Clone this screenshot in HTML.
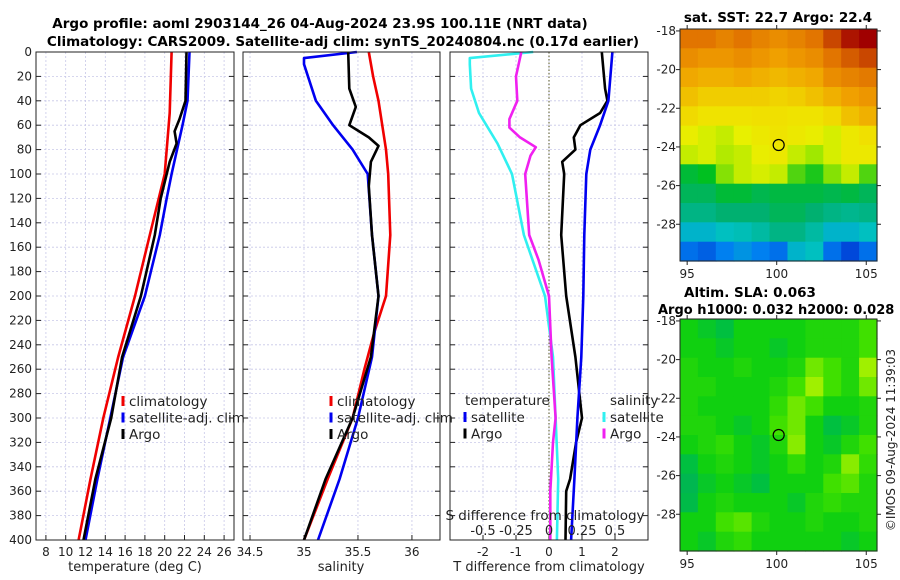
<!DOCTYPE html>
<html><head><meta charset="utf-8">
<style>
html,body{margin:0;padding:0;background:#fff;}
svg{display:block;font-family:"DejaVu Sans","Liberation Sans",sans-serif;}
</style></head>
<body>
<svg id="fig" width="900" height="580" viewBox="0 0 900 580" xmlns="http://www.w3.org/2000/svg">
<rect width="900" height="580" fill="#fff"/>
<text x="320" y="28" font-size="13.5" font-weight="bold" text-anchor="middle">Argo profile: aoml 2903144_26 04-Aug-2024 23.9S 100.11E (NRT data)</text>
<text x="343" y="46" font-size="13.5" font-weight="bold" text-anchor="middle">Climatology: CARS2009. Satellite-adj clim: synTS_20240804.nc (0.17d earlier)</text>
<text x="778" y="22" font-size="13.5" font-weight="bold" text-anchor="middle">sat. SST: 22.7 Argo: 22.4</text>
<text x="684" y="297" font-size="13.5" font-weight="bold">Altim. SLA: 0.063</text>
<text x="658" y="314" font-size="13" font-weight="bold">Argo h1000: 0.032 h2000: 0.028</text>
<text transform="translate(895,440) rotate(-90)" font-size="12" text-anchor="middle" fill="#222">©IMOS 09-Aug-2024 11:39:03</text>
<g id="plots"></g>
</svg>
<script>
// ---- data ----
const depthTicks = [0,20,40,60,80,100,120,140,160,180,200,220,240,260,280,300,320,340,360,380,400];
const tTicks = [8,10,12,14,16,18,20,22,24,26];
const sTicks = [34.5,35,35.5,36];
const sTickLabels = ["34.5","35","35.5","36"];
const dTTicks = [-2,-1,0,1,2];
const dSTicks = [-0.5,-0.25,0,0.25,0.5];
const dSTickLabels = ["-0.5","-0.25","0","0.25","0.5"];

const tClimDepth = [0,50,100,150,200,250,300,350,400];
const tClim = [20.7,20.5,20.0,18.5,17.0,15.3,13.8,12.5,11.3];
const tSatDepth = [0,40,60,100,120,150,200,250,300,350,400];
const tSat = [22.5,22.3,21.8,20.7,20.2,19.5,18.0,15.8,14.5,13.2,12.0];
const tArgoDepth = [0,40,55,65,75,90,120,150,200,250,300,350,400];
const tArgo = [22.2,22.1,21.5,21.0,21.2,20.5,19.6,19.0,17.6,15.7,14.6,13.0,11.8];

const sClimDepth = [0,20,40,80,100,150,200,230,260,300,350,400];
const sClim = [35.6,35.64,35.69,35.76,35.78,35.80,35.76,35.65,35.56,35.45,35.22,35.0];
const sSatDepth = [0,5,10,40,60,80,100,150,200,250,300,350,400];
const sSat = [35.49,35.0,35.0,35.11,35.27,35.45,35.59,35.63,35.69,35.63,35.5,35.33,35.13];
const sArgoDepth = [0,30,45,60,70,77,90,110,150,200,250,300,350,400];
const sArgo = [35.41,35.42,35.48,35.42,35.60,35.69,35.62,35.60,35.63,35.69,35.62,35.45,35.2,35.0];

const dSSatDepth = [0,5,10,30,50,75,100,150,200,250,300,350,400];
const dSSat = [-0.12,-0.6,-0.6,-0.59,-0.53,-0.39,-0.28,-0.19,-0.03,0.03,0.05,0.07,0.06];
const dSArgoDepth = [0,20,40,55,62,70,78,85,100,150,170,200,250,300,320,360,400];
const dSArgo = [-0.21,-0.25,-0.24,-0.3,-0.3,-0.22,-0.1,-0.14,-0.18,-0.15,-0.08,0,0.02,0.05,0.03,0.01,0.01];
const dTArgoDepth = [0,30,40,50,60,70,80,90,100,150,200,250,300,320,350,360,400];
const dTArgo = [1.6,1.7,1.77,1.55,0.95,0.75,0.8,0.4,0.46,0.37,0.52,0.8,1.0,0.82,0.64,0.52,0.5];
const dTSatDepth = [0,40,60,80,100,150,200,250,300,350,400];
const dTSat = [1.92,1.8,1.55,1.25,1.13,1.07,1.04,0.98,0.86,0.77,0.67];

const sstGrid = [
[0.85,0.85,0.82,0.85,0.82,0.8,0.82,0.85,0.9,0.95,0.97],
[0.8,0.78,0.78,0.8,0.78,0.76,0.78,0.8,0.85,0.88,0.9],
[0.74,0.72,0.72,0.74,0.72,0.7,0.72,0.74,0.8,0.82,0.84],
[0.68,0.66,0.66,0.66,0.66,0.65,0.66,0.68,0.72,0.76,0.78],
[0.64,0.62,0.62,0.62,0.63,0.63,0.62,0.62,0.64,0.68,0.72],
[0.58,0.56,0.55,0.57,0.6,0.62,0.6,0.58,0.56,0.6,0.63],
[0.55,0.56,0.54,0.55,0.58,0.6,0.55,0.53,0.56,0.6,0.6],
[0.45,0.47,0.52,0.55,0.56,0.55,0.5,0.48,0.52,0.55,0.5],
[0.42,0.42,0.45,0.45,0.43,0.44,0.44,0.44,0.43,0.44,0.42],
[0.38,0.38,0.4,0.4,0.4,0.42,0.42,0.4,0.38,0.37,0.38],
[0.3,0.3,0.32,0.33,0.35,0.38,0.38,0.35,0.3,0.3,0.32],
[0.2,0.18,0.22,0.25,0.22,0.2,0.3,0.32,0.2,0.15,0.2]];
const slaGrid = [
[.45,.4,.35,.45,.45,.45,.45,.5,.5,.5,.6],
[.45,.45,.4,.45,.45,.4,.45,.5,.5,.5,.6],
[.5,.45,.45,.5,.45,.45,.5,.7,.6,.5,.8],
[.5,.5,.45,.45,.45,.5,.6,.8,.6,.5,.7],
[.5,.45,.45,.45,.45,.55,.7,.6,.45,.45,.5],
[.5,.5,.45,.4,.45,.6,.7,.45,.35,.4,.5],
[.45,.5,.55,.45,.4,.5,.75,.45,.4,.5,.6],
[.35,.45,.5,.45,.4,.45,.55,.45,.5,.75,.55],
[.25,.4,.45,.4,.35,.45,.45,.45,.6,.65,.5],
[.3,.45,.5,.45,.45,.45,.4,.5,.55,.5,.5],
[.45,.45,.6,.65,.5,.45,.45,.5,.45,.45,.5],
[.45,.4,.5,.55,.45,.45,.45,.45,.45,.4,.45]];
const latTicks = [-18,-20,-22,-24,-26,-28];
const lonTicks = [95,100,105];
const argoLon = 100.11, argoLat = -23.9;

// ---- helpers ----
const NS = "http://www.w3.org/2000/svg";
const root = document.getElementById('plots');
function mk(tag, attrs, parent){
  const e = document.createElementNS(NS, tag);
  for (const k in attrs) e.setAttribute(k, attrs[k]);
  (parent||root).appendChild(e);
  return e;
}
function txt(x,y,s,size,anchor,parent,fill){
  const t = mk('text',{x:x,y:y,'font-size':size,'text-anchor':anchor||'middle',fill:fill||'#222'},parent);
  t.textContent = s; return t;
}
const Y0=52, Y1=540;
const yD = d => Y0 + d/400*(Y1-Y0);
function lin(d0,d1,p0,p1){ return v => p0 + (v-d0)/(d1-d0)*(p1-p0); }

function panel(name, x0, x1, xf, ticks, labels, ylabels){
  const g = mk('g',{});
  
  
  ticks.forEach(v=>{ const x=xf(v); mk('line',{x1:x,x2:x,y1:Y0,y2:Y1,stroke:'#c8c8e8','stroke-width':0.8,'stroke-dasharray':'2,2'},g); });
  depthTicks.forEach(d=>{ const y=yD(d); mk('line',{x1:x0,x2:x1,y1:y,y2:y,stroke:'#c8c8e8','stroke-width':0.8,'stroke-dasharray':'2,2'},g);
    mk('line',{x1:x0,x2:x0+5,y1:y,y2:y,stroke:'#222'},g); mk('line',{x1:x1-5,x2:x1,y1:y,y2:y,stroke:'#222'},g);
    if (ylabels){ const t=txt(x0-4,y+4,String(d),12,'end',g);   }
  });
  if (labels) ticks.forEach((v,i)=>{ const x=xf(v); mk('line',{x1:x,x2:x,y1:Y1,y2:Y1-5,stroke:'#222'},g);
    const t=txt(x,Y1+16,labels[i],12,'middle',g);   });
  return g;
}
function series(g, name, xf, vals, depths, color){
  const pts = vals.map((v,i)=> xf(v).toFixed(1)+','+yD(depths[i]).toFixed(1)).join(' ');
  const p = mk('polyline',{points:pts,fill:'none',stroke:color,'stroke-width':2.6,'stroke-linejoin':'round'},g);
  
  
}
function frame(g,x0,x1){ mk('rect',{x:x0,y:Y0,width:x1-x0,height:Y1-Y0,fill:'none',stroke:'#222','stroke-width':1},g); }
function legend(g,x,y,items,name){
  const lg = mk('g',{},g);
  
  
  items.forEach((it,i)=>{ const yy=y+i*16.5;
    if (it[1]) mk('line',{x1:x,x2:x,y1:yy-10,y2:yy,stroke:it[1],'stroke-width':3},lg);
    txt(x+(it[1]?6:0),yy,it[0],13.5,'start',lg);
  });
}

// Panel 1 temperature
const xT = lin(7,27,36,234);
const p1 = panel('temperature-panel',36,234,xT,tTicks,tTicks.map(String),true);
series(p1,'temperature-climatology-line',xT,tClim,tClimDepth,'#f00000');
series(p1,'temperature-satellite-line',xT,tSat,tSatDepth,'#0000f0');
series(p1,'temperature-argo-line',xT,tArgo,tArgoDepth,'#000');
frame(p1,36,234);
legend(p1,123,406,[['climatology','#f00000'],['satellite-adj. clim','#0000f0'],['Argo','#000']],'temperature-legend');
txt(135,571,'temperature (deg C)',13,'middle',p1);

// Panel 2 salinity
const xS = lin(34.435,36.26,243,440);
const p2 = panel('salinity-panel',243,440,xS,sTicks,sTickLabels,false);
series(p2,'salinity-climatology-line',xS,sClim,sClimDepth,'#f00000');
series(p2,'salinity-satellite-line',xS,sSat,sSatDepth,'#0000f0');
series(p2,'salinity-argo-line',xS,sArgo,sArgoDepth,'#000');
frame(p2,243,440);
legend(p2,331,406,[['climatology','#f00000'],['satellite-adj. clim','#0000f0'],['Argo','#000']],'salinity-legend');
txt(341,571,'salinity',13,'middle',p2);

// Panel 3 differences
const xdT = lin(-3,3,450,648);
const xdS = lin(-0.75,0.75,450,648);
const p3 = panel('difference-panel',450,648,xdT,dTTicks,dTTicks.map(String),false);
mk('line',{x1:xdT(0),x2:xdT(0),y1:Y0,y2:Y1,stroke:'#555522','stroke-width':1,'stroke-dasharray':'1.5,2'},p3);
series(p3,'salinity-satellite-diff-line',xdS,dSSat,dSSatDepth,'#30f0f0');
series(p3,'salinity-argo-diff-line',xdS,dSArgo,dSArgoDepth,'#f020f0');
series(p3,'temperature-argo-diff-line',xdT,dTArgo,dTArgoDepth,'#000');
series(p3,'temperature-satellite-diff-line',xdT,dTSat,dTSatDepth,'#0000f0');
frame(p3,450,648);
legend(p3,465,405,[['temperature',null]],'diff-legend-temperature-header');
legend(p3,465,422,[['satellite','#0000f0'],['Argo','#000']],'diff-legend-temperature');
legend(p3,610,405,[['salinity',null]],'diff-legend-salinity-header');
legend(p3,604,422,[['satellite','#30f0f0'],['Argo','#f020f0']],'diff-legend-salinity');
txt(545,520,'S difference from climatology',13.5,'middle',p3);
dSTicks.forEach((v,i)=>{ const t=txt(xdS(v),535,dSTickLabels[i],13,'middle',p3);   });
txt(549,571,'T difference from climatology',13,'middle',p3);

// Maps
const sstStops = [[0,'#00009a'],[0.12,'#0030d0'],[0.22,'#0080f0'],[0.32,'#00c0c0'],[0.4,'#00b070'],[0.47,'#00c020'],[0.53,'#a0e800'],[0.57,'#e8f000'],[0.63,'#f0e000'],[0.68,'#f0c000'],[0.76,'#f0a000'],[0.86,'#e07000'],[0.97,'#a00000'],[1,'#a00000']];
const slaStops = [[0,'#00a078'],[0.35,'#00c040'],[0.45,'#10d010'],[0.6,'#40e000'],[0.8,'#a0f000'],[1,'#c0f000']];
function hex(c){return [parseInt(c.substr(1,2),16),parseInt(c.substr(3,2),16),parseInt(c.substr(5,2),16)];}
function cmap(stops,v){
  v=Math.max(0,Math.min(1,v));
  for(let i=1;i<stops.length;i++){ if(v<=stops[i][0]){ const a=stops[i-1],b=stops[i],f=(v-a[0])/((b[0]-a[0])||1);
    const ca=hex(a[1]),cb=hex(b[1]); return 'rgb('+ca.map((c,k)=>Math.round(c+(cb[k]-c)*f)).join(',')+')'; } }
  return stops[stops.length-1][1];
}
function map(name, grid, stops, X0, X1, MY0, MY1){
  const g = mk('g',{});
  
  
  const lonF = lin(94.6,105.6,X0,X1), latF = lin(-17.9,-29.9,MY0,MY1);
  const rows=grid.length, cols=grid[0].length;
  grid.forEach((row,r)=>row.forEach((v,c)=>{
    const la0=-17.9-r*12/rows, lo0=94.6+c*11/cols;
    const x=lonF(lo0), y=latF(la0), w=lonF(lo0+11/cols)-x, h=latF(la0-12/rows)-y;
    const cell = mk('rect',{x:x.toFixed(1),y:y.toFixed(1),width:(w+0.6).toFixed(1),height:(h+0.6).toFixed(1),fill:cmap(stops,v)},g);
    
    
  }));
  mk('rect',{x:X0,y:MY0,width:X1-X0,height:MY1-MY0,fill:'none',stroke:'#222'},g);
  latTicks.forEach(l=>{ const y=latF(l); mk('line',{x1:X0-4,x2:X0,y1:y,y2:y,stroke:'#222'},g); mk('line',{x1:X1,x2:X1+4,y1:y,y2:y,stroke:'#222'},g);
    const t=txt(X0-4,y+4,String(l),12,'end',g);   });
  lonTicks.forEach(l=>{ const x=lonF(l); mk('line',{x1:x,x2:x,y1:MY1,y2:MY1+4,stroke:'#222'},g); mk('line',{x1:x,x2:x,y1:MY0-4,y2:MY0,stroke:'#222'},g);
    const t=txt(x,MY1+17,String(l),12,'middle',g);   });
  const c = mk('circle',{cx:lonF(argoLon),cy:latF(argoLat),r:5.5,fill:'none',stroke:'#000','stroke-width':1.2},g);
  
  
}
map('sst-map', sstGrid, sstStops, 680, 877, 29, 261);
map('sla-map', slaGrid, slaStops, 680, 877, 319, 551);
</script>
</body></html>
